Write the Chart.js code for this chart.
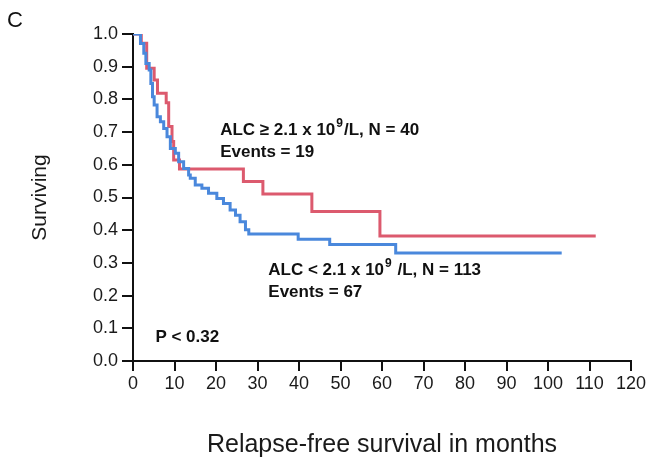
<!DOCTYPE html>
<html>
<head>
<meta charset="utf-8">
<script src="https://cdn.jsdelivr.net/npm/chart.js@4.4.1/dist/chart.umd.min.js"></script>
<style>
  body { margin: 0; background: #fff; }
  canvas { display: block; }
</style>
</head>
<body>
<canvas id="kmChart" width="651" height="468"></canvas>
<script>
// Kaplan-Meier steps (month of the drop, survival after it)
const highMonths = [0, 2.0, 3.3, 5.1, 5.9, 8.0, 8.6, 9.4, 9.8, 11.2, 26.6, 31.3, 43.1, 59.5, 111.5];
const highSurv = [1.0, 0.972, 0.895, 0.859, 0.819, 0.790, 0.717, 0.671, 0.615, 0.587, 0.549, 0.511, 0.457, 0.382, 0.382];

const lowMonths = [0, 1.8, 2.6, 3.1, 3.9, 4.3, 4.7, 5.1, 5.8, 6.6, 7.4, 8.2, 9.0, 10.2, 11.0, 12.2, 13.4, 13.8,
    15.0, 16.6, 18.2, 20.2, 21.8, 23.4, 24.7, 25.8, 27.1, 27.9, 39.8, 47.4, 63.3, 103.3];
const lowSurv = [1.0, 0.971, 0.941, 0.910, 0.890, 0.849, 0.808, 0.783, 0.747, 0.732, 0.711, 0.686, 0.650, 0.635, 0.609, 0.589, 0.569, 0.559,
    0.538, 0.528, 0.513, 0.497, 0.482, 0.462, 0.446, 0.426, 0.401, 0.388, 0.372, 0.356, 0.330, 0.330];

const xTicks = [0, 10, 20, 30, 40, 50, 60, 70, 80, 90, 100, 110, 120];
const yTicks = [0.0, 0.1, 0.2, 0.3, 0.4, 0.5, 0.6, 0.7, 0.8, 0.9, 1.0];

// text notes: [before superscript, superscript, after], anchored in data units
const notes = [
    {x: 21.0, y: 0.706, parts: ['ALC \u2265 2.1 x 10', '9', '/L, N = 40']},
    {x: 21.0, y: 0.639, parts: ['Events = 19']},
    {x: 32.6, y: 0.278, parts: ['ALC < 2.1 x 10', '9', ' /L, N = 113']},
    {x: 32.6, y: 0.211, parts: ['Events = 67']},
    {x: 5.4, y: 0.073, parts: ['P < 0.32']}
];

function toPoints(xs, ys) {
    return xs.map(function (x, i) {
        return {x: x, y: ys[i]};
    });
}

const notesPlugin = {
    id: 'notes',
    afterDraw: function (chart) {
        const ctx = chart.ctx;
        const xs = chart.scales.x;
        const ys = chart.scales.y;
        ctx.save();
        ctx.fillStyle = '#111';
        ctx.textBaseline = 'middle';
        ctx.textAlign = 'left';
        notes.forEach(function (n) {
            let px = xs.getPixelForValue(n.x);
            const py = ys.getPixelForValue(n.y);
            n.parts.forEach(function (p, i) {
                if (i === 1) {
                    ctx.font = 'bold 12px "Liberation Sans", Arial, sans-serif';
                    ctx.fillText(p, px + 1, py - 6);
                    px += 2;
                } else {
                    ctx.font = 'bold 17px "Liberation Sans", Arial, sans-serif';
                    ctx.fillText(p, px, py);
                }
                px += ctx.measureText(p).width;
            });
        });
        // panel letter
        ctx.font = '22px "Liberation Sans", Arial, sans-serif';
        ctx.textBaseline = 'alphabetic';
        ctx.fillText('C', 7, 27);
        ctx.restore();
    }
};

const axisColor = '#111';
const fontFamily = '"Liberation Sans", Arial, sans-serif';

new Chart(document.getElementById('kmChart'), {
    type: 'line',
    data: {
        datasets: [{
            label: 'ALC < 2.1',
            data: toPoints(lowMonths, lowSurv),
            borderColor: '#4a88dc',
            borderWidth: 3,
            stepped: 'before',
            pointRadius: 0,
            fill: false,
            order: 1
        }, {
            label: 'ALC >= 2.1',
            data: toPoints(highMonths, highSurv),
            borderColor: '#dc5a6e',
            borderWidth: 3,
            stepped: 'before',
            pointRadius: 0,
            fill: false,
            order: 2
        }]
    },
    options: {
        responsive: false,
        animation: false,
        layout: {padding: {top: 34, right: 20, bottom: 0, left: 0}},
        plugins: {legend: {display: false}, tooltip: {enabled: false}},
        scales: {
            x: {
                type: 'linear',
                min: 0,
                max: 120,
                afterBuildTicks: function (scale) {
                    scale.ticks = xTicks.map(function (v) { return {value: v}; });
                },
                afterFit: function (scale) { scale.height = 107; },
                ticks: {
                    color: '#1a1a1a',
                    padding: 2,
                    maxRotation: 0,
                    font: {family: fontFamily, size: 18}
                },
                grid: {drawOnChartArea: false, drawTicks: true, tickLength: 10, lineWidth: 2, color: axisColor},
                border: {display: true, width: 2, color: axisColor},
                title: {
                    display: true,
                    text: 'Relapse-free survival in months',
                    color: '#1a1a1a',
                    font: {family: fontFamily, size: 25},
                    padding: {top: 0, bottom: 8}
                }
            },
            y: {
                min: 0,
                max: 1,
                afterBuildTicks: function (scale) {
                    scale.ticks = yTicks.map(function (v) { return {value: v}; });
                },
                afterFit: function (scale) { scale.width = 133; },
                ticks: {
                    color: '#1a1a1a',
                    padding: 4,
                    font: {family: fontFamily, size: 18},
                    callback: function (v) { return Number(v).toFixed(1); }
                },
                grid: {drawOnChartArea: false, drawTicks: true, tickLength: 11, lineWidth: 2, color: axisColor},
                border: {display: true, width: 2, color: axisColor},
                title: {
                    display: true,
                    text: 'Surviving',
                    color: '#1a1a1a',
                    font: {family: fontFamily, size: 21},
                    padding: {top: 28, bottom: 0}
                }
            }
        }
    },
    plugins: [notesPlugin]
});
</script>
</body>
</html>
